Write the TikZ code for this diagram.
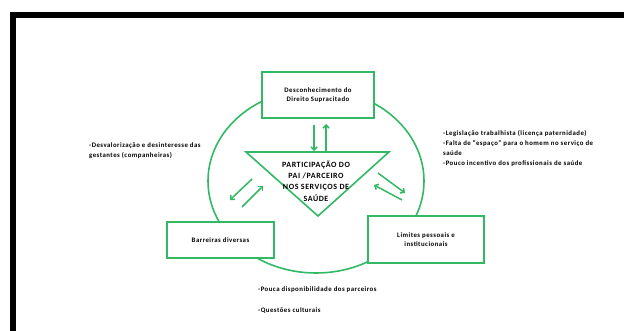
\documentclass[tikz,border=0pt]{standalone}
\usepackage{fontspec}
\setmainfont{Carlito}[LetterSpace=7]
\usetikzlibrary{arrows.meta}
\definecolor{grn}{RGB}{50,185,100}
\tikzset{
  gline/.style={draw=grn, line width=1.6pt},
  gbox/.style={gline, fill=white, rectangle, inner sep=0pt, align=center, font=\bfseries\fontsize{6.8}{9.5}\selectfont},
  garrow/.style={draw=grn, line width=1.5pt, -{Straight Barb[length=3pt,width=6pt]}},
  note/.style={align=left, anchor=north west, inner sep=0pt, font=\bfseries\fontsize{6.8}{10}\selectfont}
}
\begin{document}
\begin{tikzpicture}[x=1pt,y=-1pt]
\useasboundingbox (0,0) rectangle (624,331);
% frame
\draw[line width=6pt, line join=miter] (13,331) -- (13,15) -- (624,15);
% circle
\draw[gline] (316,181) ellipse [x radius=108, y radius=92];
% boxes
\node[gbox, minimum width=112pt, minimum height=46pt] (top) at (318,95) {Desconhecimento do\\Direito Supracitado};
\node[gbox, minimum width=107pt, minimum height=36pt] (left) at (220.5,240) {Barreiras diversas};
\node[gbox, minimum width=116pt, minimum height=47pt] (right) at (426,239.5) {Limites pessoais e\\institucionais};
% triangle
\coordinate (t1) at (246,152);
\coordinate (t2) at (389,152);
\coordinate (t3) at (318,216);
\draw[gline, fill=white, line join=miter] (t1) -- (t2) -- (t3) -- cycle;
\node[align=center, inner sep=0pt, font=\bfseries\fontsize{8}{11.3}\selectfont] (tri) at (316,181) {PARTICIPAÇÃO DO\\PAI /PARCEIRO\\NOS SERVIÇOS DE\\SAÚDE};
% vertical arrows
\coordinate (d1) at (314,125); \coordinate (d2) at (314,151);
\coordinate (u1) at (326,151); \coordinate (u2) at (326,124);
\draw[garrow] (d1) -- (d2);
\draw[garrow] (u1) -- (u2);
% left arrows
\coordinate (l1) at (252,179); \coordinate (l2) at (230,200);
\coordinate (l3) at (242,207); \coordinate (l4) at (263,186);
\draw[garrow] (l1) -- (l2);
\draw[garrow] (l3) -- (l4);
% right arrows
\coordinate (r1) at (378,173); \coordinate (r2) at (405,193);
\coordinate (r3) at (402,200); \coordinate (r4) at (374,185);
\draw[garrow] (r1) -- (r2);
\draw[garrow] (r3) -- (r4);
% notes
\node[note] (nl) at (89,143) {-Desvalorização e desinteresse das\\gestantes (companheiras)};
\node[note] (nr) at (443,130.5) {-Legislação trabalhista (licença paternidade)\\-Falta de ``espaço'' para o homem no serviço de\\saúde\\-Pouco incentivo dos profissionais de saúde};
\node[note] (nb1) at (258,286.5) {-Pouca disponibilidade dos parceiros};
\node[note] (nb2) at (258,307.5) {-Questões culturais};
\end{tikzpicture}
\end{document}
